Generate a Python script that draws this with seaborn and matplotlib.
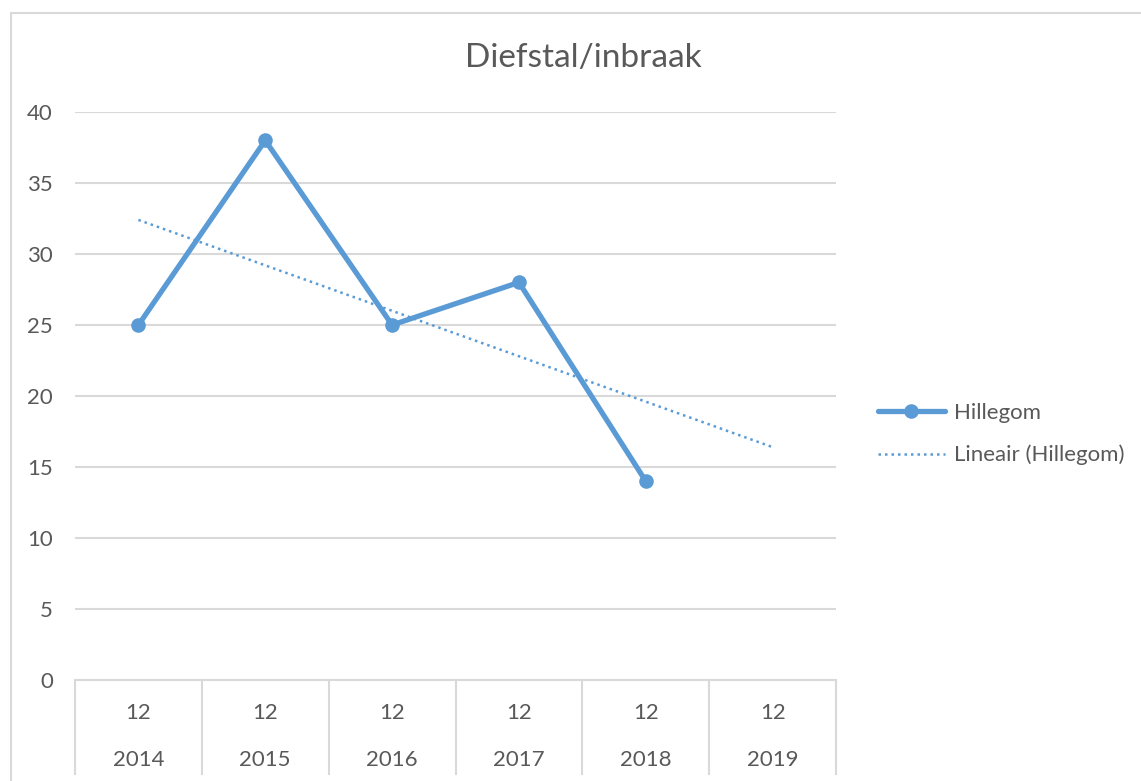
import numpy as np
import pandas as pd
import seaborn as sns
import matplotlib.pyplot as plt
from matplotlib.patches import Rectangle
import matplotlib.transforms as mtrans

# data
jaren = ['2014', '2015', '2016', '2017', '2018', '2019']
maanden = ['12', '12', '12', '12', '12', '12']
hillegom = [25, 38, 25, 28, 14]

sns.set_theme(style='white')
plt.rcParams['font.family'] = ['Lato', 'DejaVu Sans']

blauw = '#5B9BD5'
grijs = '#595959'
lijn = '#D9D9D9'

fig = plt.figure(figsize=(11.41, 7.81), dpi=100)
ax = fig.add_axes([75/1141, 1 - 680/781, (836 - 75)/1141, (680 - 112)/781])

df = pd.DataFrame({'pos': np.arange(len(hillegom)), 'waarde': hillegom})

# lineaire trendlijn over alle jaren
a, b = np.polyfit(df['pos'], df['waarde'], 1)
trend_x = np.arange(len(jaren))
trend = pd.DataFrame({'pos': trend_x, 'waarde': a * trend_x + b})

sns.lineplot(data=trend, x='pos', y='waarde', ax=ax, color=blauw, lw=1.8,
             linestyle=(0, (1, 1.6)), label='Lineair (Hillegom)', zorder=3)
sns.lineplot(data=df, x='pos', y='waarde', ax=ax, color=blauw, lw=3.8,
             marker='o', markersize=10.5, markeredgewidth=0,
             label='Hillegom', zorder=4)

ax.set_xlim(-0.5, len(jaren) - 0.5)
ax.set_ylim(0, 40)
ax.set_yticks(range(0, 41, 5))
ax.yaxis.grid(True, color=lijn, lw=1.5)
ax.xaxis.grid(False)
for s in ['left', 'top', 'right']:
    ax.spines[s].set_visible(False)
ax.spines['bottom'].set_color(lijn)
ax.spines['bottom'].set_linewidth(1.5)
ax.tick_params(axis='y', length=0, labelsize=16, labelcolor=grijs, pad=16)
ax.set_xticks([])
ax.set_xlabel('')
ax.set_ylabel('')

# categorie-as met twee niveaus
tr = mtrans.blended_transform_factory(ax.transData, ax.transAxes)
ax.vlines(np.arange(len(jaren) + 1) - 0.5, -0.168, 0, transform=tr,
          color=lijn, lw=1.5, clip_on=False)
for i, (m, j) in enumerate(zip(maanden, jaren)):
    ax.text(i, -0.058, m, transform=tr, ha='center', va='center',
            fontsize=16, color=grijs)
    ax.text(i, -0.141, j, transform=tr, ha='center', va='center',
            fontsize=16, color=grijs)

fig.text(583/1141, 1 - 58/781, 'Diefstal/inbraak',
         ha='center', va='center', fontsize=24, color=grijs)

# rand van het grafiekgebied
fig.patches.append(Rectangle((11/1141, -0.01), 1.1, 1 - 13/781 + 0.01,
                             transform=fig.transFigure, fill=False,
                             edgecolor=lijn, lw=1.5))

h, l = ax.get_legend_handles_labels()
ax.legend(h[::-1], l[::-1], loc='center left',
          bbox_to_anchor=(858/1141, 1 - 434/781),
          bbox_transform=fig.transFigure, frameon=False, fontsize=16,
          labelcolor=grijs, handlelength=3.0, handletextpad=0.4,
          labelspacing=1.0)

fig.savefig('out.png', dpi=100)
